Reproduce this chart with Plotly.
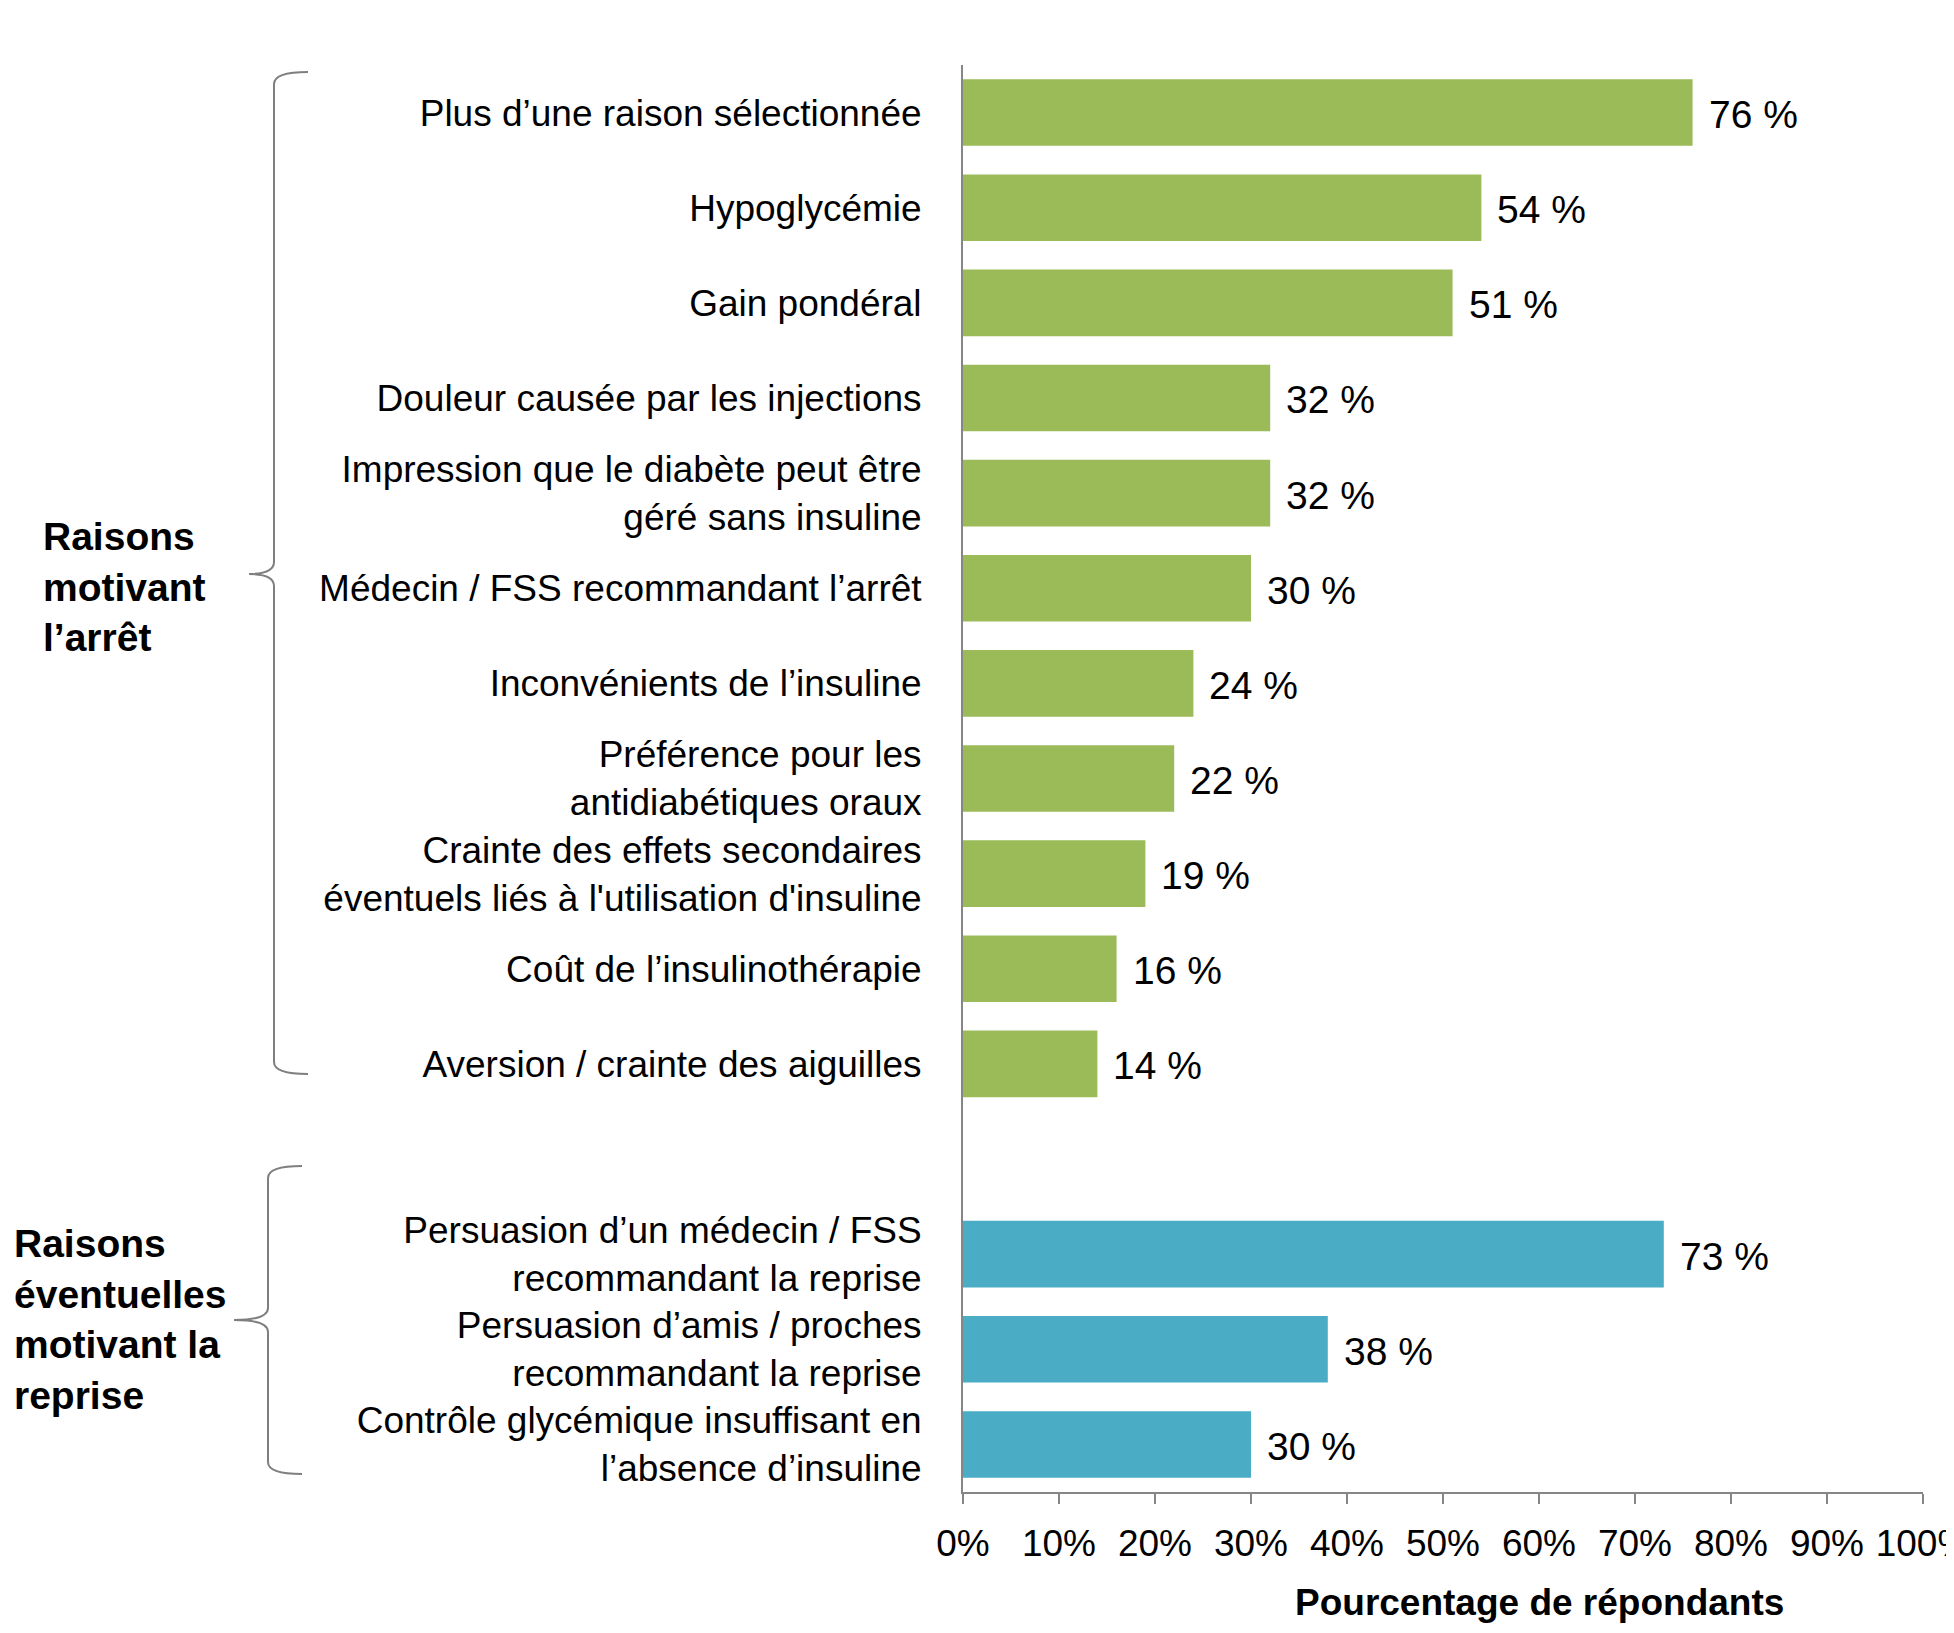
import plotly.graph_objects as go

# ---- data ----
stop_labels = [
    "Plus d’une raison sélectionnée",
    "Hypoglycémie",
    "Gain pondéral",
    "Douleur causée par les injections",
    "Impression que le diabète peut être<br>géré sans insuline",
    "Médecin / FSS recommandant l’arrêt",
    "Inconvénients de l’insuline",
    "Préférence pour les<br>antidiabétiques oraux",
    "Crainte des effets secondaires<br>éventuels liés à l'utilisation d'insuline",
    "Coût de l’insulinothérapie",
    "Aversion / crainte des aiguilles",
]
stop_values = [76, 54, 51, 32, 32, 30, 24, 22, 19, 16, 14]

resume_labels = [
    "Persuasion d’un médecin / FSS<br>recommandant la reprise",
    "Persuasion d’amis / proches<br>recommandant la reprise",
    "Contrôle glycémique insuffisant en<br>l’absence d’insuline",
]
resume_values = [73, 38, 30]

x_ticks = [0, 10, 20, 30, 40, 50, 60, 70, 80, 90, 100]
x_tick_labels = ["0%", "10%", "20%", "30%", "40%", "50%", "60%", "70%", "80%", "90%", "100%"]
x_title = "Pourcentage de répondants"
group_stop = "Raisons<br>motivant<br>l’arrêt"
group_resume = "Raisons<br>éventuelles<br>motivant la<br>reprise"

# ---- layout geometry (screen pixels; page body has an 8px margin) ----
OFF = 8
W, H = 1954 - 2 * OFF, 1633 - 2 * OFF
PL, PR, PT, PB = 963, 1923, 65, 1492  # plot area in screen pixels
L, R, T, B = PL - OFF, W - (PR - OFF), PT - OFF, H - (PB - OFF)
PW, PH = W - L - R, H - T - B


def px(x):
    return (x - OFF - L) / PW


def py(y):
    return (H - B - (y - OFF)) / PH


FONT = "Liberation Sans, Arial, sans-serif"
GREEN = "#9BBB59"
BLUE = "#4BACC6"
GRAY = "#868686"

stop_pos = list(range(len(stop_values)))
resume_pos = [len(stop_values) + 1 + i for i in range(len(resume_values))]

fig = go.Figure()
fig.add_trace(go.Bar(x=stop_values, y=stop_pos, orientation="h",
                     marker=dict(color=GREEN, line=dict(width=0)), width=0.7,
                     hoverinfo="skip"))
fig.add_trace(go.Bar(x=resume_values, y=resume_pos, orientation="h",
                     marker=dict(color=BLUE, line=dict(width=0)), width=0.7,
                     hoverinfo="skip"))

annotations = []
for v, p in zip(stop_values + resume_values, stop_pos + resume_pos):
    annotations.append(dict(x=v, y=p, xref="x", yref="y", text=f"{v} %",
                            showarrow=False, xanchor="left", yanchor="middle",
                            xshift=14, yshift=-2,
                            font=dict(family=FONT, size=39, color="black")))

annotations.append(dict(x=px(41), y=py(587), xref="paper", yref="paper",
                        text=group_stop, showarrow=False, xanchor="left",
                        yanchor="middle", align="left",
                        font=dict(family=FONT, size=39, color="black", weight="bold")))
annotations.append(dict(x=px(12), y=py(1319), xref="paper", yref="paper",
                        text=group_resume, showarrow=False, xanchor="left",
                        yanchor="middle", align="left",
                        font=dict(family=FONT, size=39, color="black", weight="bold")))
annotations.append(dict(x=px(1539), y=py(1603), xref="paper", yref="paper",
                        text=x_title, showarrow=False, xanchor="center",
                        yanchor="middle",
                        font=dict(family=FONT, size=37, color="black", weight="bold")))


def brace(x_line, x_tip, x_end, y_top, y_mid, y_bot):
    r = 12
    pts = [
        ("M", [(x_end, y_top)]),
        ("Q", [(x_line, y_top), (x_line, y_top + r)]),
        ("L", [(x_line, y_mid - r)]),
        ("Q", [(x_line, y_mid), (x_tip, y_mid)]),
        ("Q", [(x_line, y_mid), (x_line, y_mid + r)]),
        ("L", [(x_line, y_bot - r)]),
        ("Q", [(x_line, y_bot), (x_end, y_bot)]),
    ]
    s = ""
    for cmd, ps in pts:
        s += cmd + " " + " ".join(f"{px(a):.5f},{py(b):.5f}" for a, b in ps) + " "
    return s.strip()


shapes = [
    dict(type="path", xref="paper", yref="paper",
         path=brace(274, 249, 308, 72, 574, 1074),
         line=dict(color="#7f7f7f", width=2)),
    dict(type="path", xref="paper", yref="paper",
         path=brace(268, 234, 302, 1166, 1320, 1474),
         line=dict(color="#7f7f7f", width=2)),
]

fig.update_layout(
    width=W, height=H,
    margin=dict(l=L, r=R, t=T, b=B, autoexpand=False),
    plot_bgcolor="white", paper_bgcolor="white",
    showlegend=False,
    bargap=0.3,
    annotations=annotations,
    shapes=shapes,
    font=dict(family=FONT, size=37, color="black"),
    xaxis=dict(range=[0, 100], tickmode="array", tickvals=x_ticks,
               ticktext=x_tick_labels,
               showgrid=False, zeroline=False, showline=True,
               linecolor=GRAY, linewidth=2, ticks="outside", ticklen=10,
               tickcolor=GRAY, tickwidth=2, automargin=False,
               tickfont=dict(family=FONT, size=37, color="black"),
               ticklabeloverflow="allow",
               ticklabelstandoff=8),
    yaxis=dict(range=[len(stop_values) + len(resume_values) + 0.5, -0.5],
               tickmode="array",
               tickvals=stop_pos + resume_pos,
               ticktext=stop_labels + resume_labels,
               showgrid=False, zeroline=False, showline=True,
               linecolor=GRAY, linewidth=2, ticks="", automargin=False,
               tickfont=dict(family=FONT, size=37, color="black"),
               ticklabelstandoff=32),
)

fig.write_html("out.html")
